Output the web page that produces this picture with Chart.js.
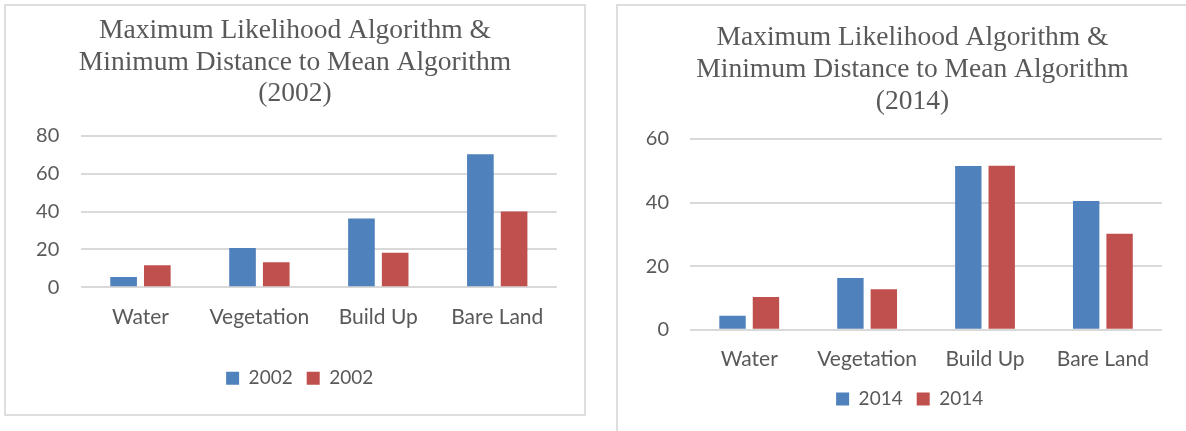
<!DOCTYPE html>
<html>
<head>
<meta charset="utf-8">
<script src="https://cdn.jsdelivr.net/npm/chart.js@4.4.0/dist/chart.umd.min.js"></script>
<style>
  html, body { margin: 0; padding: 0; background: #fff; width: 1186px; height: 431px; overflow: hidden; }
  .panel { position: absolute; box-sizing: border-box; border: 2px solid #dedede; background: #fff; }
  #panel2002 { left: 4px; top: 4px; width: 582px; height: 412px; }
  #panel2014 { left: 616px; top: 4px; width: 620px; height: 470px; }
  canvas { position: absolute; }
  #chart2002 { left: 6px; top: 6px; }
  #chart2014 { left: 618px; top: 6px; }
</style>
</head>
<body>
<div class="panel" id="panel2002"></div>
<div class="panel" id="panel2014"></div>
<canvas id="chart2002" width="578" height="408"></canvas>
<canvas id="chart2014" width="548" height="425"></canvas>
<script>
// Land-cover classes on the category axis
const categories = ['Water', 'Vegetation', 'Build Up', 'Bare Land'];

// 2002: maximum likelihood (blue) and minimum distance to mean (red)
const seriesNames2002 = ['2002', '2002'];
const maxLikelihood2002 = [5.4, 20.7, 36.3, 70.2];
const minDistance2002 = [11.6, 13.2, 18.2, 40.0];
const yTicks2002 = [0, 20, 40, 60, 80];
const title2002 = ['Maximum Likelihood Algorithm &', 'Minimum Distance to Mean Algorithm', '(2002)'];

// 2014: maximum likelihood (blue) and minimum distance to mean (red)
const seriesNames2014 = ['2014', '2014'];
const maxLikelihood2014 = [4.4, 16.3, 51.5, 40.5];
const minDistance2014 = [10.3, 12.7, 51.6, 30.2];
const yTicks2014 = [0, 20, 40, 60];
const title2014 = ['Maximum Likelihood Algorithm &', 'Minimum Distance to Mean Algorithm', '(2014)'];

const BLUE = '#4F81BD';
const RED = '#C0504D';
const TEXT = '#595959';
const GRID = '#d9d9d9';
const SANS = 'Lato';
const SERIF = 'Liberation Serif';

// Centre the title and legend boxes on a chosen x (in canvas pixels)
// instead of on the padded canvas width.
const centerBoxes = {
  id: 'centerBoxes',
  afterLayout(chart, args, opts) {
    [[chart.titleBlock, opts.title], [chart.legend, opts.legend]].forEach(([box, cx]) => {
      if (!box || cx == null) return;
      const half = (box.right - box.left) / 2;
      box.left = cx - half;
      box.right = cx + half;
    });
  }
};

function buildChart(id, names, blue, red, ticks, titleLines, lay) {
  return new Chart(document.getElementById(id), {
    type: 'bar',
    data: {
      labels: categories,
      datasets: [
        { label: names[0], data: blue, backgroundColor: BLUE, borderWidth: 0,
          categoryPercentage: 0.567, barPercentage: 0.79 },
        { label: names[1], data: red, backgroundColor: RED, borderWidth: 0,
          categoryPercentage: 0.567, barPercentage: 0.79 }
      ]
    },
    plugins: [centerBoxes],
    options: {
      responsive: false,
      maintainAspectRatio: false,
      animation: false,
      events: [],
      layout: { padding: { left: lay.padLeft, right: lay.padRight, top: 0, bottom: lay.padBottom } },
      plugins: {
        tooltip: { enabled: false },
        centerBoxes: { title: lay.titleX, legend: lay.legendX },
        title: {
          display: true,
          text: titleLines,
          color: TEXT,
          font: { family: SERIF, size: 27.5, weight: 'normal', lineHeight: 1.153 },
          padding: { top: lay.titleTop, bottom: lay.titleBottom }
        },
        legend: {
          display: true,
          position: 'bottom',
          labels: {
            color: TEXT,
            font: { family: SANS, size: 19 },
            boxWidth: 13,
            boxHeight: 13,
            padding: 14
          }
        }
      },
      scales: {
        x: {
          grid: { display: false, drawTicks: false },
          border: { display: false },
          ticks: { color: TEXT, font: { family: SANS, size: 21 }, padding: 17, maxRotation: 0 },
          afterFit(scale) { scale.height = lay.xHeight; }
        },
        y: {
          min: ticks[0],
          max: ticks[ticks.length - 1],
          grid: { color: GRID, lineWidth: 2, drawTicks: false },
          border: { display: false },
          ticks: { color: TEXT, font: { family: SANS, size: 20 }, padding: lay.yPad, stepSize: ticks[1] - ticks[0] },
          afterFit(scale) { scale.width = lay.yWidth; }
        }
      }
    }
  });
}

buildChart('chart2002', seriesNames2002, maxLikelihood2002, minDistance2002, yTicks2002, title2002,
  { padLeft: 27.3, padRight: 27.3, padBottom: 16.2, titleTop: 9, titleBottom: 25.6,
    xHeight: 67.5, yWidth: 47.7, yPad: 21.7, titleX: 289, legendX: 293.7 });

buildChart('chart2014', seriesNames2014, maxLikelihood2014, minDistance2014, yTicks2014, title2014,
  { padLeft: 22.3, padRight: 0, padBottom: 12.5, titleTop: 16.3, titleBottom: 21.6,
    xHeight: 45.8, yWidth: 50, yPad: 21.3, titleX: 294.5, legendX: 291.7 });
</script>
</body>
</html>
